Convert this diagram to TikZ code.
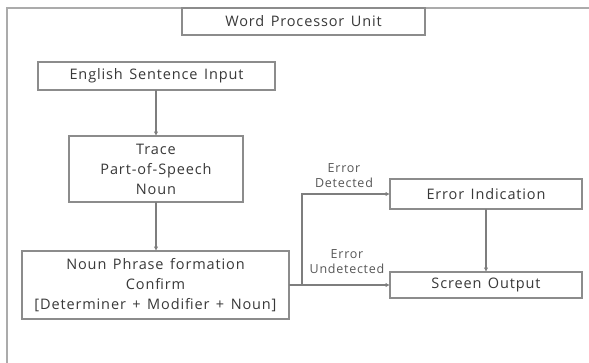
\documentclass[tikz,border=0pt]{standalone}
\usepackage{fontspec}
\setmainfont{Open Sans}[LetterSpace=6.0,WordSpace=1.4]
\usetikzlibrary{arrows.meta}
\definecolor{boxline}{HTML}{8C8C8C}
\definecolor{frameline}{HTML}{ABABAB}
\definecolor{txt}{HTML}{383838}
\begin{document}
\begin{tikzpicture}[x=1pt,y=-1pt,
  box/.style={draw=boxline,line width=1.3pt,inner sep=0pt,outer sep=0pt,
    align=center,text=txt,font=\fontsize{14.5}{20}\selectfont},
  flow/.style={draw=boxline!90!black,line width=1.3pt,
    -{Latex[length=4.5pt,width=4.5pt]}},
  lbl/.style={text=txt!85,align=center,inner sep=0pt,
    font=\fontsize{12.5}{15}\selectfont}]
  \useasboundingbox (0,0) rectangle (589,362);
  % outer frame, running off the page on the right and bottom
  \begin{scope}
    \clip (0,0) rectangle (589,362);
    \draw[frameline,line width=2pt] (7,380) -- (7,8) -- (600,8);
  \end{scope}
  % boxes
  \node[box,minimum width=243pt,minimum height=27pt] (wpu) at (303.5,21.5) {Word Processor Unit};
  \node[box,minimum width=237pt,minimum height=28pt] (eng) at (156.5,76) {English Sentence Input};
  \node[box,minimum width=174pt,minimum height=66pt] (trace) at (156,169) {Trace\\Part-of-Speech\\Noun};
  \node[box,minimum width=267pt,minimum height=68pt] (np) at (155.5,285) {Noun Phrase formation\\Confirm\\{[}Determiner + Modifier + Noun{]}};
  \node[box,minimum width=192pt,minimum height=30pt] (err) at (486,194) {Error Indication};
  \node[box,minimum width=192pt,minimum height=26pt] (out) at (486,285) {Screen Output};
  % connectors
  \coordinate (br) at (302,285);
  \draw[flow] (eng.south -| trace.north) -- (trace.north);
  \draw[flow] (trace.south) -- (trace.south |- np.north);
  \draw[flow] (np.east) -- (out.west);
  \draw[flow] (br) |- (err.west);
  \draw[flow] (err) -- (out);
  % branch labels
  \node[lbl] (ldet) at (344,176) {Error\\Detected};
  \node[lbl] (lund) at (347,262) {Error\\Undetected};
\end{tikzpicture}
\end{document}
